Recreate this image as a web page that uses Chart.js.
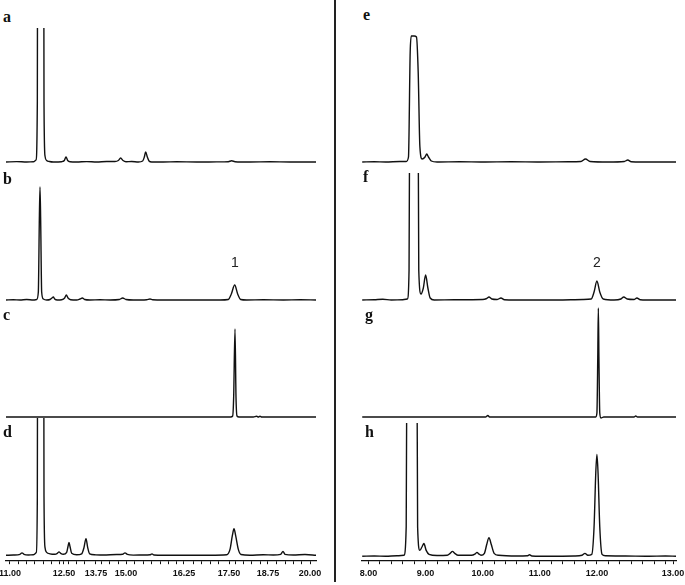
<!DOCTYPE html>
<html>
<head>
<meta charset="utf-8">
<script src="https://cdn.jsdelivr.net/npm/chart.js@4.4.1/dist/chart.umd.min.js"></script>
<style>
  html, body { margin: 0; padding: 0; background: #fff; }
  #fig { position: relative; width: 685px; height: 585px; overflow: hidden; background: #fff; }
  #fig canvas { position: absolute; }
  .tag { position: absolute; font: bold 16px "Liberation Serif", serif; line-height: 16px; color: #111; }
  .peak { position: absolute; font: 14px "Liberation Sans", sans-serif; line-height: 14px; color: #222; transform: translateX(-50%); }
  #divider { position: absolute; left: 334px; top: 0; width: 1.5px; height: 582px; background: #222; }
</style>
</head>
<body>
<div id="fig">
  <div id="divider"></div>
</div>
<script>
// retention time (min) / detector response
const traceA = [[10.88,0],[11.2,0.4],[11.5,0],[11.70,0.3],[11.78,2],[11.82,60],[11.83,300],[11.86,700],[11.92,1000],[11.98,700],[12.01,300],[12.02,60],[12.05,6],[12.10,1.5],[12.18,0.5],[12.30,0],[12.55,0.3],[12.63,1.5],[12.68,5],[12.73,1.5],[12.80,0.2],[13.0,0],[13.3,0.4],[13.6,0],[13.9,0.5],[14.15,0.5],[14.25,1.5],[14.32,4],[14.39,1.5],[14.48,0.3],[14.65,0.5],[14.85,0],[14.98,1],[15.03,5],[15.07,10],[15.12,5],[15.17,1],[15.25,0],[15.6,0],[16.0,0.2],[16.6,0],[17.2,0.1],[17.55,0.3],[17.65,1.2],[17.75,0.3],[18.2,0],[18.8,0.2],[19.4,0],[20.18,0]];
const traceB = [[10.88,0],[11.1,0.3],[11.3,0],[11.5,0.5],[11.7,0],[11.80,0.5],[11.85,8],[11.88,80],[11.90,113],[11.92,80],[11.95,8],[12.00,1],[12.10,0],[12.20,0.5],[12.26,2],[12.30,3],[12.34,1],[12.42,0],[12.55,0.3],[12.64,2],[12.69,5],[12.74,2],[12.82,0.3],[13.0,0],[13.10,1],[13.17,2],[13.24,0.5],[13.4,0],[13.7,0.3],[14.0,0],[14.28,0.5],[14.38,2],[14.48,0.5],[14.7,0],[15.1,0.3],[15.20,1],[15.28,0.2],[15.6,0],[16.2,0],[16.8,0],[17.3,0],[17.55,0.5],[17.64,6],[17.74,15],[17.83,6],[17.92,0.5],[18.1,0],[18.6,0.2],[19.2,0],[19.7,0.2],[20.18,0]];
const traceC = [[10.88,0],[12.0,0],[14.0,0],[16.0,0],[17.62,0],[17.68,1],[17.71,20],[17.75,88],[17.78,20],[17.81,1],[17.87,0],[18.3,0],[18.40,0.8],[18.45,0],[18.50,0.8],[18.55,0],[19.0,0],[20.18,0]];
const traceD = [[10.88,0],[11.1,0.3],[11.30,1],[11.36,2.5],[11.42,1],[11.55,0.3],[11.70,0.5],[11.79,3],[11.82,60],[11.83,300],[11.86,700],[11.92,1300],[11.98,700],[12.01,300],[12.02,60],[12.05,8],[12.10,3],[12.20,1.5],[12.35,1],[12.42,2],[12.47,3.5],[12.52,2],[12.60,1],[12.70,3],[12.74,9],[12.77,13],[12.80,9],[12.85,2],[13.0,0.5],[13.15,1.5],[13.22,8],[13.28,17],[13.33,8],[13.39,1.5],[13.55,0.5],[13.8,0.3],[14.2,0.8],[14.38,1],[14.45,2.5],[14.52,1],[14.7,0.2],[15.0,0.3],[15.20,0.5],[15.26,1.5],[15.32,0.3],[15.6,0],[16.3,0],[17.0,0],[17.5,0.5],[17.60,6],[17.67,20],[17.72,27],[17.77,20],[17.85,6],[17.93,0.8],[18.2,0],[18.6,0.5],[18.9,0.3],[19.12,1],[19.19,4],[19.25,1],[19.5,0.3],[19.85,0.8],[20.18,0]];

const traceE = [[7.89,0],[8.1,0.3],[8.3,0],[8.55,0.5],[8.66,0.5],[8.70,5],[8.73,110],[8.75,126],[8.80,126],[8.84,125],[8.87,90],[8.90,15],[8.94,3],[8.99,5],[9.02,8],[9.05,5],[9.10,1],[9.2,0],[9.6,0.3],[10.0,0],[10.5,0.3],[11.0,0],[11.5,0.2],[11.72,0.5],[11.80,3],[11.88,0.5],[12.2,0],[12.48,0.5],[12.54,2],[12.60,0.3],[13.0,0],[13.385,0]];
const traceF = [[7.89,0],[8.1,0.3],[8.25,0.8],[8.4,0],[8.6,0.3],[8.68,1],[8.71,30],[8.74,500],[8.80,1000],[8.85,500],[8.88,30],[8.92,6],[8.96,12],[9.00,25],[9.04,12],[9.08,2],[9.15,0],[9.5,0.3],[10.00,0.5],[10.07,1.5],[10.11,3],[10.16,1],[10.25,0.5],[10.32,2],[10.38,0.3],[10.8,0],[11.3,0],[11.76,0.5],[11.9,1],[11.95,8],[12.00,19],[12.05,8],[12.11,1],[12.3,0],[12.42,1],[12.47,3],[12.53,1],[12.65,0.5],[12.70,2],[12.76,0.3],[13.0,0],[13.385,0]];
const traceG = [[7.89,0],[9.0,0],[10.0,0],[10.05,0],[10.09,1.5],[10.12,0],[11.0,0],[11.98,0],[12.00,4],[12.015,60],[12.025,109],[12.035,60],[12.05,4],[12.07,-1],[12.12,0],[12.65,0],[12.68,1],[12.71,0],[13.385,0]];
const traceH = [[7.89,0],[8.1,0.3],[8.3,0],[8.5,0.5],[8.62,1],[8.66,30],[8.69,500],[8.76,1000],[8.83,500],[8.86,30],[8.90,6],[8.94,10],[8.97,13],[9.01,6],[9.06,2],[9.2,0.8],[9.38,1],[9.43,3],[9.47,5],[9.51,3],[9.57,1],[9.8,1],[9.87,2.5],[9.90,4],[9.93,2.5],[9.97,1],[10.03,3],[10.07,12],[10.11,19],[10.15,12],[10.20,3],[10.28,1],[10.6,0.3],[10.78,0.5],[10.82,1.5],[10.86,0.3],[11.2,0],[11.6,0.3],[11.74,1],[11.79,3],[11.84,1],[11.91,2],[11.95,30],[11.98,85],[12.00,104],[12.02,85],[12.05,30],[12.09,2],[12.15,0.5],[12.5,0.3],[12.9,0],[13.2,0.3],[13.385,0]];

// axis tick labels as printed (they sit unevenly on the original axes)
const leftTickPos = [11.00, 12.62, 13.58, 14.48, 16.22, 17.57, 18.74, 20.00];
const leftTickLabels = ["11.00", "12.50", "13.75", "15.00", "16.25", "17.50", "18.75", "20.00"];
const rightTickPos = [8, 9, 10, 11, 12, 13.333];
const rightTickLabels = ["8.00", "9.00", "10.00", "11.00", "12.00", "13.00"];

const panelTags = ["a", "b", "c", "d", "e", "f", "g", "h"];
const peakNames = ["1", "2"];

// layout of the two columns
const columns = {
    left: { x: 0, width: 340, padLeft: 6, padRight: 24, min: 10.88, max: 20.18, step: 0.25, tickPos: leftTickPos, tickLabels: leftTickLabels },
    right: { x: 340, width: 345, padLeft: 22, padRight: 9, min: 7.886, max: 13.385, step: 0.2, tickPos: rightTickPos, tickLabels: rightTickLabels },
};

const panels = [
    { data: traceA, col: "left", top: 28, height: 140, yMin: -6, yMax: 134 },
    { data: traceB, col: "left", top: 180, height: 126, yMin: -6, yMax: 120 },
    { data: traceC, col: "left", top: 322, height: 101, yMin: -6, yMax: 95 },
    { data: traceD, col: "left", top: 418, height: 167, yMin: -5, yMax: 140, axis: true },
    { data: traceE, col: "right", top: 30, height: 138, yMin: -6, yMax: 132 },
    { data: traceF, col: "right", top: 173, height: 133, yMin: -6, yMax: 127 },
    { data: traceG, col: "right", top: 305, height: 118, yMin: -6, yMax: 112 },
    { data: traceH, col: "right", top: 423, height: 162, yMin: -4, yMax: 136, axis: true },
];

const fig = document.getElementById("fig");

function buildTicks(col) {
    const ticks = col.tickPos.map((v) => ({ value: v }));
    // minor tick marks between the labelled ones
    for (let v = Math.ceil(col.min / col.step) * col.step; v <= col.max; v += col.step) {
        if (col.tickPos.every((p) => Math.abs(p - v) > 0.1)) ticks.push({ value: v });
    }
    return ticks.sort((a, b) => a.value - b.value);
}

function tickLabel(col, value) {
    const i = col.tickPos.findIndex((p) => Math.abs(p - value) < 1e-6);
    return i === -1 ? "" : col.tickLabels[i];
}

panels.forEach((p) => {
    const col = columns[p.col];
    const canvas = document.createElement("canvas");
    canvas.width = col.width;
    canvas.height = p.height;
    canvas.style.left = col.x + "px";
    canvas.style.top = p.top + "px";
    canvas.style.width = col.width + "px";
    canvas.style.height = p.height + "px";
    fig.appendChild(canvas);

    new Chart(canvas, {
        type: "line",
        data: {
            datasets: [{
                data: p.data,
                borderColor: "#111",
                borderWidth: 1.4,
                pointRadius: 0,
                cubicInterpolationMode: "monotone",
                fill: false,
            }],
        },
        options: {
            responsive: false,
            animation: false,
            devicePixelRatio: 1,
            events: [],
            layout: { padding: { left: col.padLeft, right: col.padRight, top: 0, bottom: p.axis ? 2 : 0 } },
            plugins: { legend: { display: false }, tooltip: { enabled: false } },
            scales: {
                x: {
                    type: "linear",
                    display: !!p.axis,
                    min: col.min,
                    max: col.max,
                    afterBuildTicks: (axis) => { axis.ticks = buildTicks(col); },
                    // keep the plot width the same as the panels above
                    afterFit: (axis) => { axis.paddingLeft = 0; axis.paddingRight = 0; },
                    ticks: {
                        autoSkip: false,
                        maxRotation: 0,
                        minRotation: 0,
                        padding: 4,
                        color: "#111",
                        font: { family: "'Liberation Sans Narrow', 'Liberation Sans', sans-serif", size: 9, weight: "bold" },
                        callback: (value) => tickLabel(col, value),
                    },
                    grid: { drawOnChartArea: false, drawTicks: true, tickLength: 4, color: "#111", lineWidth: 1 },
                    border: { display: true, color: "#111", width: 1.3 },
                },
                y: { display: false, min: p.yMin, max: p.yMax },
            },
        },
    });
});

// panel letters
const tagPos = [[3, 9], [3, 171], [3, 307], [3, 424], [363, 7], [363, 169], [365, 307], [365, 424]];
panelTags.forEach((t, i) => {
    const el = document.createElement("div");
    el.className = "tag";
    el.textContent = t;
    el.style.left = tagPos[i][0] + "px";
    el.style.top = tagPos[i][1] + "px";
    fig.appendChild(el);
});

// compound numbers over peaks 1 and 2
const peakPos = [[235, 255], [597, 255]];
peakNames.forEach((t, i) => {
    const el = document.createElement("div");
    el.className = "peak";
    el.textContent = t;
    el.style.left = peakPos[i][0] + "px";
    el.style.top = peakPos[i][1] + "px";
    fig.appendChild(el);
});
</script>
</body>
</html>
